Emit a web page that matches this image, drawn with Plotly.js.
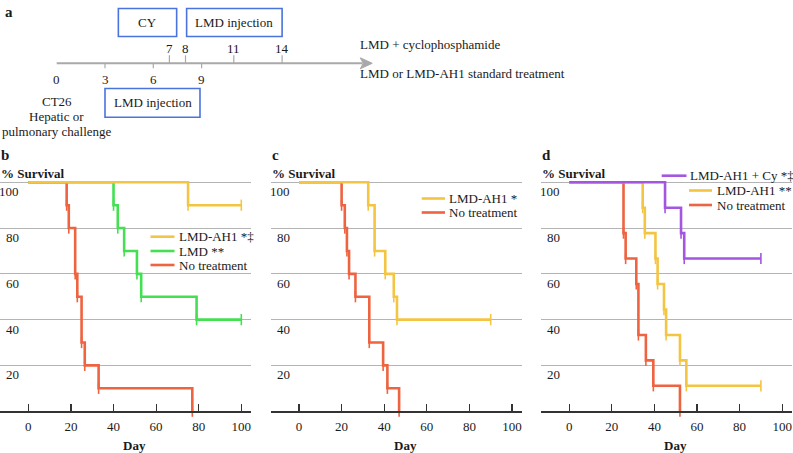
<!DOCTYPE html>
<html>
<head>
<meta charset="utf-8">
<script src="https://cdn.plot.ly/plotly-3.0.1.min.js"></script>
<style>html,body{margin:0;padding:0;background:#fff;}#chart{width:793px;height:453px;}</style>
</head>
<body>
<div id="chart"></div>
<script>
// ---------- DATA ----------
// Panel b
const bRedDays    = [0, 18, 19, 22, 23, 25, 26.5, 33, 77];
const bRedSurv    = [100, 90, 80, 60, 50, 30, 20, 10, 0];
const bGreenDays  = [0, 40, 42, 45, 51, 53, 79, 100];
const bGreenSurv  = [100, 90, 80, 70, 60, 50, 40, 40];
const bYellowDays = [0, 75, 100];
const bYellowSurv = [100, 90, 90];
// Panel c
const cRedDays    = [0, 20, 21.5, 22.5, 23.5, 26.5, 33, 39.5, 41.5, 47];
const cRedSurv    = [100, 90, 80, 70, 60, 50, 30, 20, 10, 0];
const cYellowDays = [0, 32.5, 35.5, 40.5, 44.5, 46, 90];
const cYellowSurv = [100, 90, 70, 60, 50, 40, 40];
// Panel d
const dRedDays    = [0, 25.5, 26.5, 31.5, 32.5, 36, 39.5, 52];
const dRedSurv    = [100, 77.8, 66.7, 55.6, 33.3, 22.2, 11.1, 0];
const dYellowDays = [0, 34.5, 35.5, 40.5, 41.5, 44.5, 45.5, 52, 55, 90];
const dYellowSurv = [100, 88.9, 77.8, 66.7, 55.6, 44.4, 33.3, 22.2, 11.1, 11.1];
const dPurpleDays = [0, 45, 52.5, 54, 90];
const dPurpleSurv = [100, 88.9, 77.8, 66.7, 66.7];

const legendB = ['LMD-AH1 *‡', 'LMD **', 'No treatment'];
const legendC = ['LMD-AH1 *', 'No treatment'];
const legendD = ['LMD-AH1 + Cy *‡', 'LMD-AH1 **', 'No treatment'];
const panelLetters = ['b', 'c', 'd'];
const xTickVals = [0, 20, 40, 60, 80, 100];
const yTickVals = [20, 40, 60, 80, 100];
const yTitle = '% Survival';
const xTitle = 'Day';

// Panel a timeline
const upperDays = [7, 8, 11, 14];
const lowerDays = [0, 3, 6, 9];
const challengeText = ['CT26', 'Hepatic or', 'pulmonary challenge'];
const scheduleText = ['LMD + cyclophosphamide', 'LMD or LMD-AH1 standard treatment'];

// ---------- STYLE / LAYOUT ----------
const W = 793, H = 453;
const FONT = 'Liberation Serif, Times New Roman, serif';
const TXT = '#1a1a1a';
const C = {red: '#EE6340', green: '#45E052', yellow: '#F4C542', purple: '#A456E0',
           grid: '#b4b4b4', axis: '#333333', box: '#4A74DC', arrow: '#A9A9A9'};
const px = p => p / W;
const py = p => 1 - p / H;

const K = 2.13;
const XR = [-13.3, 104.5];
const x0px = [28.3, 299, 569.2];
const yDom = [py(411.2), py(180.0)];

const traces = [];
function addCurve(days, surv, color, ax) {
  traces.push({x: days, y: surv, type: 'scatter', mode: 'lines', line: {shape: 'hv', color: color, width: 2.6},
               xaxis: 'x' + ax, yaxis: 'y' + ax, hoverinfo: 'skip'});
  traces.push({x: days.slice(1), y: surv.slice(1), type: 'scatter', mode: 'markers',
               marker: {symbol: 'line-ns-open', size: 8, color: color, line: {color: color, width: 1.6}},
               cliponaxis: false, xaxis: 'x' + ax, yaxis: 'y' + ax, hoverinfo: 'skip'});
}
// panel b (axis '' -> x/y)
addCurve(bRedDays, bRedSurv, C.red, '');
addCurve(bGreenDays, bGreenSurv, C.green, '');
addCurve(bYellowDays, bYellowSurv, C.yellow, '');
// panel c
addCurve(cRedDays, cRedSurv, C.red, '2');
addCurve(cYellowDays, cYellowSurv, C.yellow, '2');
// panel d
addCurve(dRedDays, dRedSurv, C.red, '3');
addCurve(dYellowDays, dYellowSurv, C.yellow, '3');
addCurve(dPurpleDays, dPurpleSurv, C.purple, '3');
// timeline anchor trace
traces.push({x: [], y: [], xaxis: 'x4', yaxis: 'y4', type: 'scatter', mode: 'markers'});

const layout = {
  width: W, height: H, margin: {l: 0, r: 0, t: 0, b: 0},
  paper_bgcolor: '#fff', plot_bgcolor: 'rgba(0,0,0,0)', showlegend: false,
  font: {family: FONT, size: 13, color: TXT},
  shapes: [], annotations: []
};

const axNames = ['', '2', '3'];
axNames.forEach((n, i) => {
  const d0 = Math.max(0, (x0px[i] + XR[0] * K) / W);
  const d1 = Math.min(1, (x0px[i] + XR[1] * K) / W);
  layout['xaxis' + n] = {domain: [d0, d1], range: XR, anchor: 'y' + n, tickvals: xTickVals,
    ticks: 'inside', ticklen: 7, tickwidth: 1.2, tickcolor: C.axis, showline: true, linecolor: C.axis,
    linewidth: 1.5, showgrid: false, zeroline: false, tickfont: {size: 13, color: TXT, family: FONT},
    ticklabelstandoff: 3, fixedrange: true};
  layout['yaxis' + n] = {domain: yDom, range: [0, 101], anchor: 'x' + n, tickvals: yTickVals,
    showticklabels: false, ticks: '', showgrid: true, gridcolor: C.grid, gridwidth: 1,
    zeroline: false, showline: false, fixedrange: true};
  // y tick labels inside, below gridlines, right aligned
  yTickVals.forEach(v => layout.annotations.push({xref: 'x' + n + ' domain', yref: 'y' + n, x: 0, y: v,
    xanchor: 'right', yanchor: 'middle', xshift: 21, yshift: -9.5, showarrow: false, text: String(v),
    font: {size: 13, color: TXT}}));
  // title / letter
  layout.annotations.push({xref: 'x' + n + ' domain', yref: 'paper', x: 0, y: py(173.5), xanchor: 'left',
    yanchor: 'middle', showarrow: false, text: '<b>' + yTitle + '</b>', font: {size: 13, color: TXT}, xshift: -1});
  layout.annotations.push({xref: 'x' + n + ' domain', yref: 'paper', x: 0, y: py(155), xanchor: 'left',
    yanchor: 'middle', showarrow: false, text: '<b>' + panelLetters[i] + '</b>', font: {size: 15, color: TXT}, xshift: -1});
  layout.annotations.push({xref: 'x' + n, yref: 'paper', x: 50, y: py(445.5), xanchor: 'center',
    yanchor: 'middle', showarrow: false, text: '<b>' + xTitle + '</b>', font: {size: 13, color: TXT}});
});

// legends (drawn manually)
function legendRow(x1, x2, xt, y, color, label) {
  layout.shapes.push({type: 'line', xref: 'paper', yref: 'paper', x0: px(x1), x1: px(x2), y0: py(y), y1: py(y),
    line: {color: color, width: 2.6}});
  layout.annotations.push({xref: 'paper', yref: 'paper', x: px(xt), y: py(y), xanchor: 'left', yanchor: 'middle',
    showarrow: false, text: label, font: {size: 13, color: TXT}});
}
legendRow(150.5, 174.5, 176.5, 236.7, C.yellow, legendB[0]);
legendRow(150.5, 174.5, 176.5, 251.0, C.green, legendB[1]);
legendRow(150.5, 174.5, 176.5, 265.0, C.red, legendB[2]);
legendRow(421.7, 445, 447, 198.5, C.yellow, legendC[0]);
legendRow(421.7, 445, 447, 212.5, C.red, legendC[1]);
legendRow(661.7, 686.5, 688, 175.7, C.purple, legendD[0]);
legendRow(689, 712, 714.5, 190.5, C.yellow, legendD[1]);
legendRow(689, 712, 714.5, 205.0, C.red, legendD[2]);

// ---------- PANEL a: timeline ----------
const T0 = 56.7, TK = 16.1;
layout.xaxis4 = {domain: [0, 1], range: [-T0 / TK, (W - T0) / TK], visible: false, fixedrange: true, anchor: 'y4'};
layout.yaxis4 = {domain: [0.75, 1], range: [0, 1], visible: false, fixedrange: true, anchor: 'x4'};
const lineY = 63.3;
const arrowEnd = 19.0;
layout.shapes.push({type: 'line', xref: 'x4', yref: 'paper', x0: 0, x1: arrowEnd, y0: py(lineY), y1: py(lineY),
  line: {color: C.arrow, width: 2}});
const tipX = T0 + 19.6 * TK;
layout.shapes.push({type: 'path', xref: 'paper', yref: 'paper', fillcolor: C.arrow, line: {color: C.arrow, width: 1},
  path: `M ${px(tipX)} ${py(lineY)} L ${px(tipX - 12)} ${py(lineY - 5.5)} L ${px(tipX - 9)} ${py(lineY)} L ${px(tipX - 12)} ${py(lineY + 5.5)} Z`});
upperDays.forEach(d => {
  layout.shapes.push({type: 'line', xref: 'x4', yref: 'paper', x0: d, x1: d, y0: py(lineY), y1: py(lineY - 8),
    line: {color: C.arrow, width: 1.2}});
  layout.annotations.push({xref: 'x4', yref: 'paper', x: d, y: py(48.5), xanchor: 'center', yanchor: 'middle',
    showarrow: false, text: String(d), font: {size: 13, color: TXT}});
});
lowerDays.forEach(d => {
  if (d > 0) layout.shapes.push({type: 'line', xref: 'x4', yref: 'paper', x0: d, x1: d, y0: py(lineY), y1: py(lineY + 5),
    line: {color: C.arrow, width: 1.2}});
  layout.annotations.push({xref: 'x4', yref: 'paper', x: d, y: py(79), xanchor: 'center', yanchor: 'middle',
    showarrow: false, text: String(d), font: {size: 13, color: TXT}});
});
function box(dA, dB, yTop, yBot, label) {
  layout.shapes.push({type: 'rect', xref: 'x4', yref: 'paper', x0: dA, x1: dB, y0: py(yBot), y1: py(yTop),
    line: {color: C.box, width: 1.6}, fillcolor: 'rgba(0,0,0,0)'});
  layout.annotations.push({xref: 'x4', yref: 'paper', x: (dA + dB) / 2, y: py((yTop + yBot) / 2), xanchor: 'center',
    yanchor: 'middle', showarrow: false, text: label, font: {size: 13, color: TXT}});
}
box(3.83, 7.45, 8.5, 36.5, 'CY');
box(8.07, 14.0, 8.5, 36.5, 'LMD injection');
box(3.0, 8.9, 88.5, 117.3, 'LMD injection');
challengeText.forEach((t, i) => layout.annotations.push({xref: 'x4', yref: 'paper', x: 0, y: py(101.7 + 15 * i),
  xanchor: 'center', yanchor: 'middle', showarrow: false, text: t, font: {size: 13, color: TXT}}));
scheduleText.forEach((t, i) => layout.annotations.push({xref: 'paper', yref: 'paper', x: px(357.5), y: py(i ? 73.3 : 45),
  xanchor: 'left', yanchor: 'middle', showarrow: false, text: t, font: {size: 13, color: TXT}}));
layout.annotations.push({xref: 'paper', yref: 'paper', x: px(3), y: py(12), xanchor: 'left', yanchor: 'middle',
  showarrow: false, text: '<b>a</b>', font: {size: 15, color: TXT}});

Plotly.newPlot('chart', traces, layout, {staticPlot: true, displayModeBar: false});
</script>
</body>
</html>
